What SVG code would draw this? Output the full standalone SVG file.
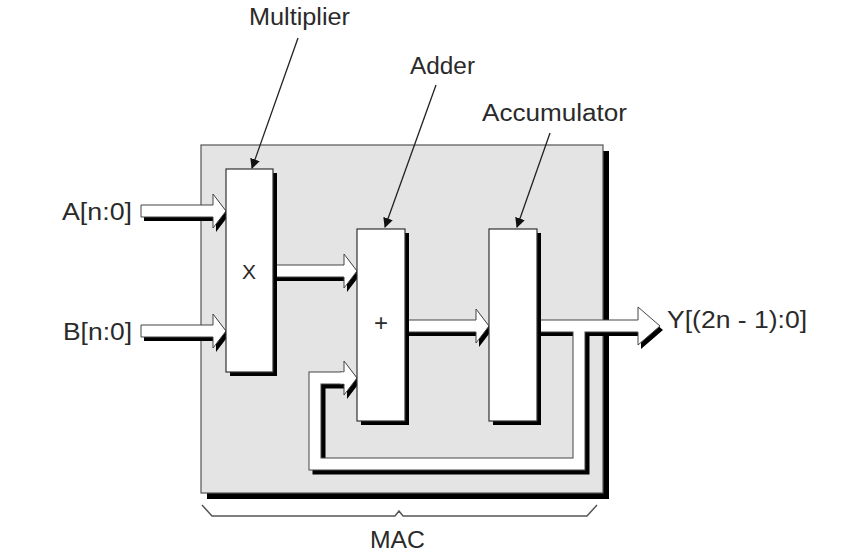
<svg xmlns="http://www.w3.org/2000/svg" width="850" height="558" viewBox="0 0 850 558">
<style>
.lbl{font-family:"Liberation Sans",Arial,sans-serif;font-size:23px;fill:#2a2a2a}
.blk{fill:#fff;stroke:#333;stroke-width:1.2}
.sh{fill:#000}
.fa{fill:#fff;stroke:#444;stroke-width:1}
.lead{stroke:#222;stroke-width:1.3;fill:none;marker-end:url(#ah)}
</style>
<defs>
<marker id="ah" viewBox="0 0 10 10" refX="9" refY="5" markerWidth="10" markerHeight="10" markerUnits="userSpaceOnUse" orient="auto">
<path d="M0,0 L10,5 L0,10 z" fill="#111"/>
</marker>
</defs>
<rect width="850" height="558" fill="#fff"/>
<g id="mac">
<rect x="207" y="151" width="402" height="348" class="sh"/>
<rect x="201" y="145" width="402" height="348" fill="#e4e4e4" stroke="#555" stroke-width="1.2"/>
<polyline points="202,505 212,516 395,516 399,511 403,516 587,516 597,505" fill="none" stroke="#555" stroke-width="1.5"/>
<text class="lbl" x="370" y="548" textLength="55" lengthAdjust="spacingAndGlyphs">MAC</text>
</g>
<g id="connectors">
<polygon class="sh" transform="translate(3,4)" points="141,205 213,205 213,194 226,211 213,228 213,217 141,217"/>
<polygon class="fa" points="141,205 213,205 213,194 226,211 213,228 213,217 141,217"/>
<polygon class="sh" transform="translate(3,4)" points="141,325 213,325 213,314 226,331 213,348 213,337 141,337"/>
<polygon class="fa" points="141,325 213,325 213,314 226,331 213,348 213,337 141,337"/>
<polygon class="sh" transform="translate(3,4)" points="273,265 344,265 344,254 357,271 344,288 344,277 273,277"/>
<polygon class="fa" points="273,265 344,265 344,254 357,271 344,288 344,277 273,277"/>
<polygon class="sh" transform="translate(3,4)" points="405,320 476,320 476,309 489,326 476,343 476,332 405,332"/>
<polygon class="fa" points="405,320 476,320 476,309 489,326 476,343 476,332 405,332"/>
<polyline points="579,326 579,464 315,464 315,378 342,378" fill="none" stroke="#000" stroke-width="13" stroke-linejoin="miter" transform="translate(4,4)"/>
<polygon class="sh" transform="translate(3,4)" points="537,320 638,320 638,307 660,326 638,345 638,332 537,332"/>
<polygon class="sh" transform="translate(3,4)" points="340,372 344,372 344,361 357,378 344,395 344,384 340,384"/>
<polyline points="579,326 579,464 315,464 315,378 342,378" fill="none" stroke="#444" stroke-width="13" stroke-linejoin="miter"/>
<polygon class="fa" points="537,320 638,320 638,307 660,326 638,345 638,332 537,332"/>
<polygon class="fa" points="340,372 344,372 344,361 357,378 344,395 344,384 340,384"/>
<polyline points="579,326 579,464 315,464 315,378 345,378" fill="none" stroke="#fff" stroke-width="11" stroke-linejoin="miter"/>
<line class="lead" x1="298" y1="38" x2="252" y2="168"/>
<line class="lead" x1="436" y1="85" x2="385" y2="227"/>
<line class="lead" x1="550" y1="133" x2="517" y2="227"/>
</g>
<g id="multiplier">
<rect x="230" y="173" width="47" height="203" class="sh"/>
<rect x="226" y="169" width="47" height="203" class="blk"/>
<text class="lbl" x="249" y="279" text-anchor="middle" style="font-size:21px">X</text>
</g>
<g id="adder">
<rect x="361" y="233" width="48" height="192" class="sh"/>
<rect x="357" y="229" width="48" height="192" class="blk"/>
<text class="lbl" x="381" y="331" text-anchor="middle" style="font-size:24px">+</text>
</g>
<g id="accumulator">
<rect x="493" y="233" width="48" height="192" class="sh"/>
<rect x="489" y="229" width="48" height="192" class="blk"/>
</g>
<g id="labels">
<text class="lbl" x="249" y="25" textLength="101" lengthAdjust="spacingAndGlyphs">Multiplier</text>
<text class="lbl" x="410" y="74" textLength="65" lengthAdjust="spacingAndGlyphs">Adder</text>
<text class="lbl" x="482" y="121" textLength="145" lengthAdjust="spacingAndGlyphs">Accumulator</text>
<text class="lbl" x="62" y="220" textLength="70" lengthAdjust="spacingAndGlyphs">A[n:0]</text>
<text class="lbl" x="63" y="340" textLength="69" lengthAdjust="spacingAndGlyphs">B[n:0]</text>
<text class="lbl" x="667" y="328" textLength="140" lengthAdjust="spacingAndGlyphs">Y[(2n - 1):0]</text>
</g>
</svg>
